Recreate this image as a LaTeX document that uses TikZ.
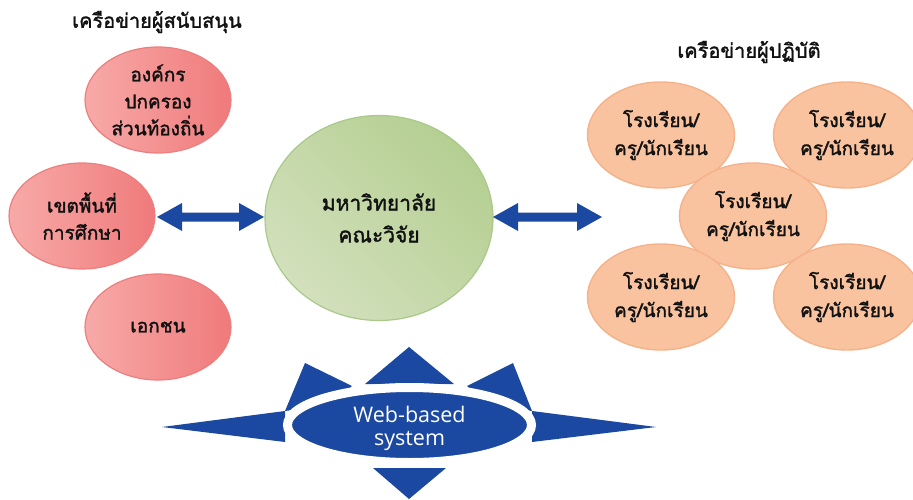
\documentclass[tikz,border=0pt]{standalone}
\usepackage{fontspec}
\newfontfamily\thai[Script=Thai,FakeBold=1.6]{Loma}
\newfontfamily\webfont{Open Sans}
\usetikzlibrary{shapes.geometric,calc}
\definecolor{pinkL}{HTML}{F7AAA8}
\definecolor{pinkR}{HTML}{F07A7B}
\definecolor{pinkB}{HTML}{EC7E7E}
\definecolor{grnL}{HTML}{D2E0BC}
\definecolor{grnR}{HTML}{B5CF92}
\definecolor{grnB}{HTML}{A9C98B}
\definecolor{orF}{HTML}{F9C3A0}
\definecolor{orB}{HTML}{F5B28A}
\definecolor{navy}{HTML}{1B48A0}
\definecolor{ink}{HTML}{111111}
\begin{document}
\begin{tikzpicture}[x=1pt,y=-1pt,
  pinknode/.style={ellipse, draw=pinkB, line width=1.2pt, left color=pinkL, right color=pinkR,
    minimum width=146pt, minimum height=106pt, inner sep=0pt, align=center, text=ink,
    font=\thai\fontsize{19}{27}\selectfont},
  orangenode/.style={ellipse, draw=orB, line width=1.4pt, fill=orF,
    minimum width=147pt, minimum height=106pt, inner sep=0pt, align=center, text=ink,
    font=\thai\fontsize{19}{28}\selectfont},
  greennode/.style={ellipse, draw=grnB, line width=1.2pt, left color=grnL, right color=grnR, shading angle=135,
    minimum width=228pt, minimum height=205pt, inner sep=0pt, align=center, text=ink,
    font=\thai\fontsize{21}{32}\selectfont},
  titletext/.style={font=\thai\fontsize{20}{24}\selectfont, text=ink, inner sep=0pt},
  webnode/.style={ellipse, fill=navy, draw=white, line width=9pt, minimum width=244pt, minimum height=75pt,
    inner sep=0pt, align=center, text=white, font=\webfont\fontsize{21.5}{23}\selectfont},
  starfill/.style={fill=navy}
]
\useasboundingbox (0,0) rectangle (913,500);

% titles
\node[titletext] (tleft) at (157,22) {เครือข่ายผู้สนับสนุน};
\node[titletext] (tright) at (749,52) {เครือข่ายผู้ปฏิบัติ};

% support network
\node[pinknode] (org) at (158,100) {องค์กร\\ปกครอง\\ส่วนท้องถิ่น};
\node[pinknode] (area) at (82,216) {เขตพื้นที่\\การศึกษา};
\node[pinknode] (priv) at (158,327) {เอกชน};

% university
\node[greennode] (uni) at (379,218) {มหาวิทยาลัย\\คณะวิจัย};

% practitioner network
\node[orangenode] (s1) at (661,135) {โรงเรียน/\\ครู/นักเรียน};
\node[orangenode] (s2) at (847,135) {โรงเรียน/\\ครู/นักเรียน};
\node[orangenode] (s3) at (753,216) {โรงเรียน/\\ครู/นักเรียน};
\node[orangenode] (s4) at (661,297) {โรงเรียน/\\ครู/นักเรียน};
\node[orangenode] (s5) at (847,297) {โรงเรียน/\\ครู/นักเรียน};

% block arrows
\coordinate (la) at (157,217);
\coordinate (lb) at (264,217);
\coordinate (ra) at (493,217);
\coordinate (rb) at (602,217);
\fill[navy] (la) -- ($(la)+(25,-14)$) -- ($(la)+(25,-4.5)$) -- ($(lb)+(-25,-4.5)$) -- ($(lb)+(-25,-14)$) -- (lb)
  -- ($(lb)+(-25,14)$) -- ($(lb)+(-25,4.5)$) -- ($(la)+(25,4.5)$) -- ($(la)+(25,14)$) -- cycle;
\fill[navy] (ra) -- ($(ra)+(25,-14)$) -- ($(ra)+(25,-4.5)$) -- ($(rb)+(-25,-4.5)$) -- ($(rb)+(-25,-14)$) -- (rb)
  -- ($(rb)+(-25,14)$) -- ($(rb)+(-25,4.5)$) -- ($(ra)+(25,4.5)$) -- ($(ra)+(25,14)$) -- cycle;

% star behind web-based system
\fill[starfill] (162,427) -- (285,411) -- (285,442) -- cycle;
\fill[starfill] (656,427) -- (532,411) -- (532,442) -- cycle;
\fill[starfill] (409,347) -- (365,384) -- (454,384) -- cycle;
\fill[starfill] (409,499) -- (373,468) -- (446,468) -- cycle;
\fill[starfill] (285,411) -- (305,363) -- (352,386) -- (330,405) -- cycle;
\fill[starfill] (532,411) -- (513,363) -- (467,386) -- (489,405) -- cycle;
\node[webnode] (web) at (409.5,425) {\rule{0pt}{24pt}Web-based\\system};
\end{tikzpicture}
\end{document}
